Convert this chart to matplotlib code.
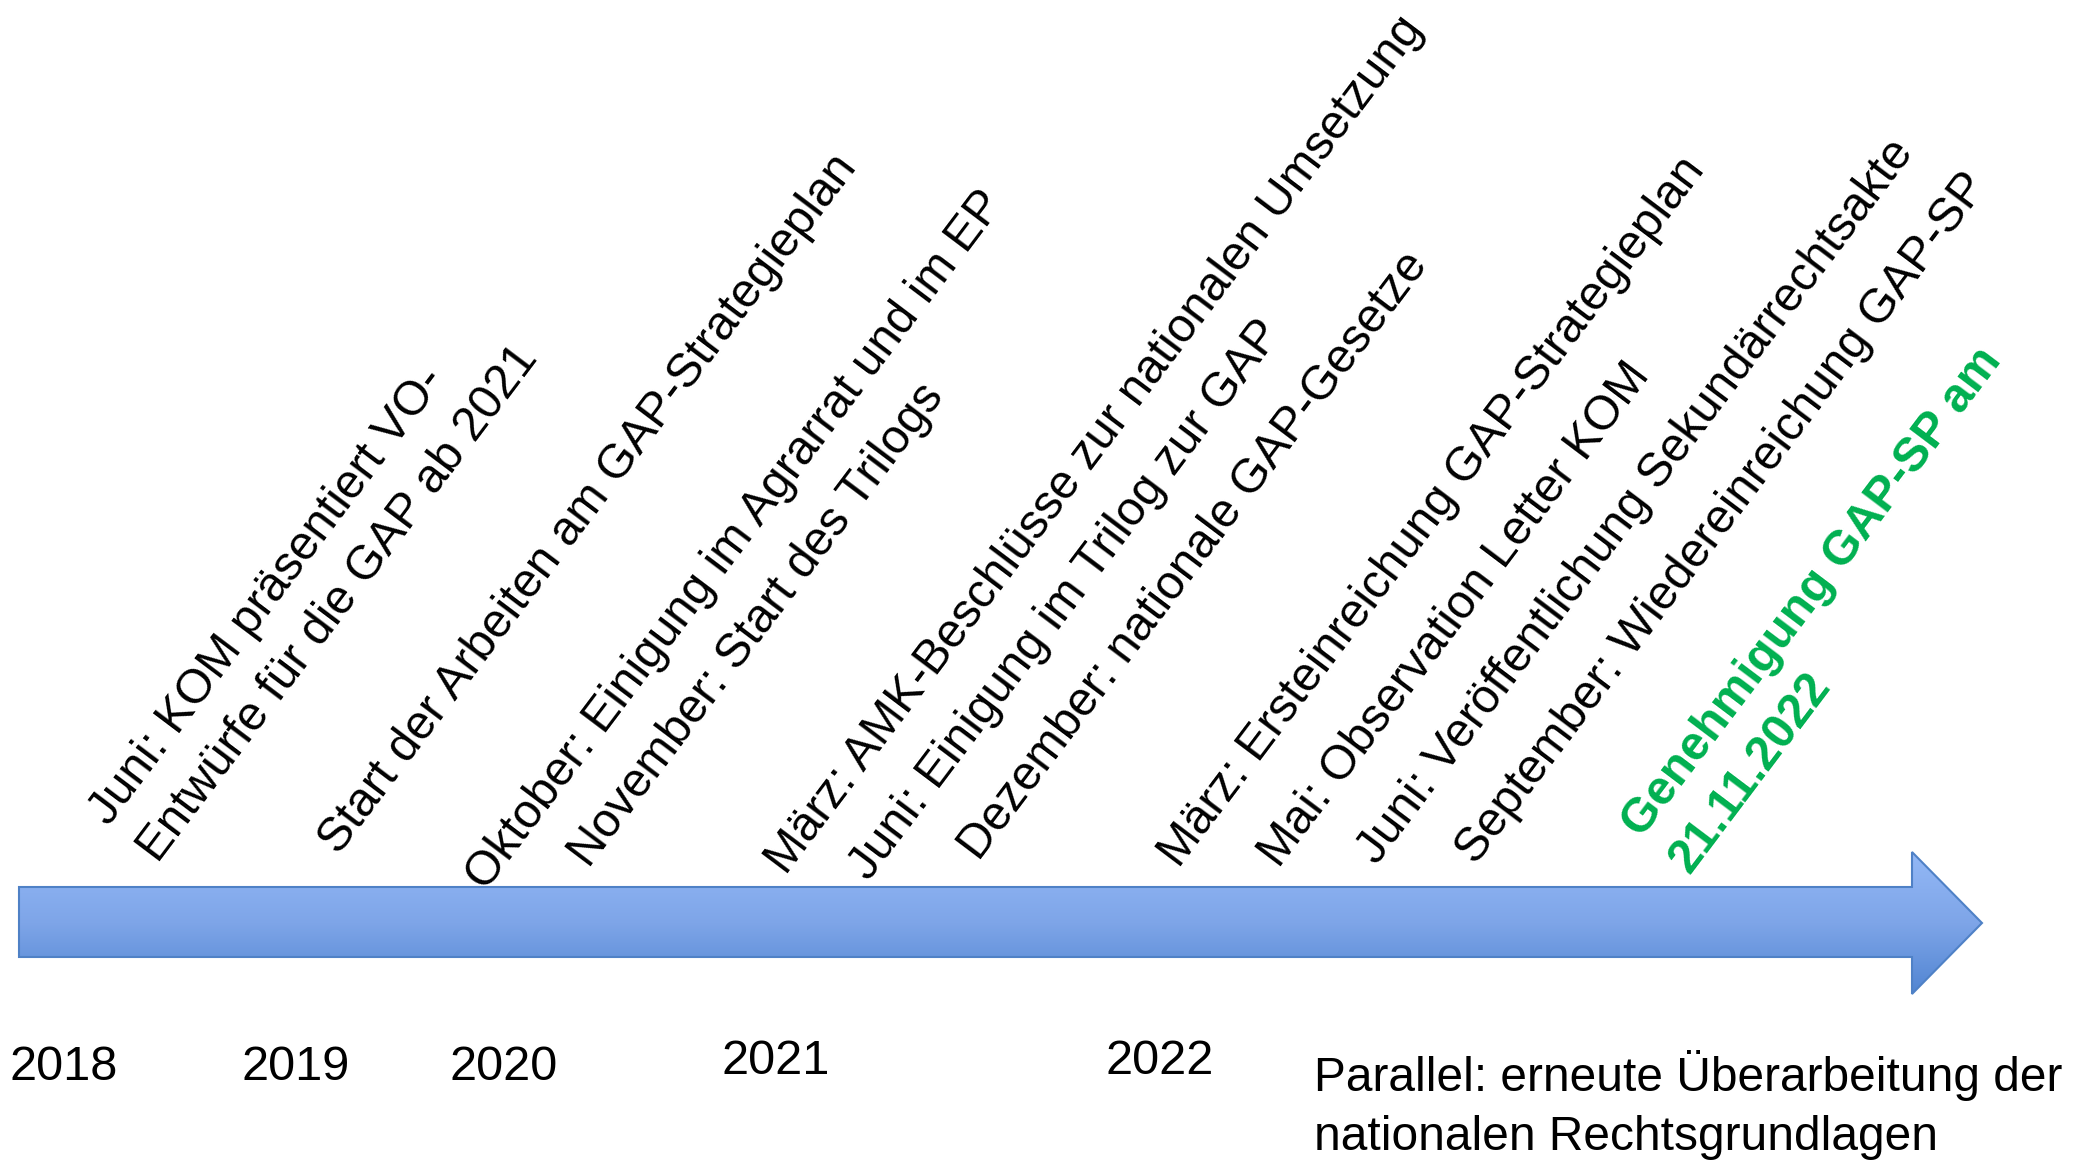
import matplotlib
matplotlib.use("Agg")
import matplotlib.pyplot as plt
import numpy as np
from matplotlib.patches import Polygon
from matplotlib.colors import LinearSegmentedColormap

plt.rcParams["font.family"] = ["Liberation Sans", "DejaVu Sans"]

# Jahre unter dem Zeitstrahl
years = ["2018", "2019", "2020", "2021", "2022"]
year_x = [9, 242, 449, 722, 1106]
year_y = [1080, 1080, 1080, 1074, 1074]

# Ereignisse (schräg über dem Pfeil); Ankerpunkt = Anfang der letzten Zeile
events = [
    "Juni: KOM präsentiert VO-\nEntwürfe für die GAP ab 2021",
    "Start der Arbeiten am GAP-Strategieplan",
    "Oktober: Einigung im Agrarrat und im EP",
    "November: Start des Trilogs",
    "März: AMK-Beschlüsse zur nationalen Umsetzung",
    "Juni: Einigung im Trilog zur GAP",
    "Dezember: nationale GAP-Gesetze",
    "März: Ersteinreichung GAP-Strategieplan",
    "Mai: Observation Letter KOM",
    "Juni: Veröffentlichung Sekundärrechtsakte",
    "September: Wiedereinreichung GAP-SP",
]
event_x = [145, 339, 486, 589, 786, 869, 979, 1179, 1279, 1377, 1476]
event_y = [854, 856, 892, 869, 876, 882, 862, 869, 869, 866, 866]

highlight = "Genehmigung GAP-SP am\n21.11.2022"
highlight_xy = (1678, 866)

note = "Parallel: erneute Überarbeitung der\nnationalen Rechtsgrundlagen"
note_xy = (1314, 1150)

W, H = 2085, 1161
fig = plt.figure(figsize=(W / 100, H / 100), dpi=100)
ax = fig.add_axes([0, 0, 1, 1])
ax.set_xlim(0, W)
ax.set_ylim(H, 0)
ax.axis("off")

# Pfeil mit Farbverlauf (oben hell, unten dunkel)
arrow_pts = [(19, 887), (1912, 887), (1912, 852), (1982, 923),
             (1912, 994), (1912, 957), (19, 957)]
arrow = Polygon(arrow_pts, closed=True, facecolor="none",
                edgecolor="#4f81c6", linewidth=1.5, zorder=3)
ax.add_patch(arrow)
cmap = LinearSegmentedColormap.from_list("blau", ["#93b8f6", "#7ea5e8", "#5185d2"])
grad = np.linspace(0, 1, 256).reshape(-1, 1)
img = ax.imshow(grad, cmap=cmap, extent=(19, 1982, 994, 852),
                aspect="auto", zorder=2)
img.set_clip_path(arrow)
ax.set_xlim(0, W)
ax.set_ylim(H, 0)

for txt, x, y in zip(years, year_x, year_y):
    ax.text(x, y, txt, fontsize=35, ha="left", va="baseline")

for txt, x, y in zip(events, event_x, event_y):
    ax.text(x, y, txt, fontsize=34.4, rotation=53, rotation_mode="anchor",
            ha="left", va="baseline", linespacing=1.48)

ax.text(highlight_xy[0], highlight_xy[1], highlight, fontsize=34.4,
        fontweight="bold", color="#00b050", rotation=53,
        rotation_mode="anchor", ha="left", va="baseline", linespacing=1.42)

ax.text(note_xy[0], note_xy[1], note, fontsize=34.5, ha="left",
        va="baseline", linespacing=1.41)

fig.savefig("out.png", dpi=100)
